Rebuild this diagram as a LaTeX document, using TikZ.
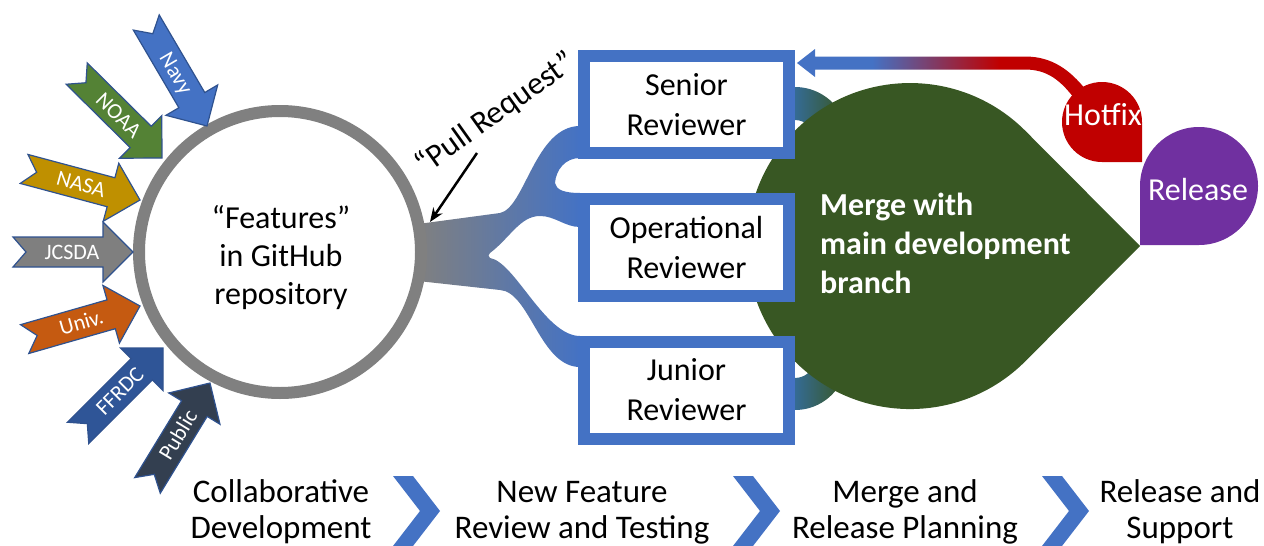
\documentclass[tikz,border=0pt]{standalone}
\usepackage{fontspec}
\setmainfont{Carlito}
\usetikzlibrary{arrows.meta}
\definecolor{cblue}{HTML}{4472C4}
\definecolor{cgray}{HTML}{808080}
\definecolor{cgreen}{HTML}{385723}
\definecolor{cred}{HTML}{C00000}
\definecolor{cpurple}{HTML}{7030A0}
\definecolor{cteal}{HTML}{346EA5}
\definecolor{cout}{HTML}{2F528F}
\definecolor{cnavy}{HTML}{4472C4}
\definecolor{cnoaa}{HTML}{548235}
\definecolor{cnasa}{HTML}{BF9000}
\definecolor{cjcsda}{HTML}{7F7F7F}
\definecolor{cuniv}{HTML}{C55A11}
\definecolor{cffrdc}{HTML}{2F5597}
\definecolor{cpublic}{HTML}{333F50}
\pgfdeclarehorizontalshading{hotfixshade}{100bp}{color(0bp)=(cblue); color(38bp)=(cblue); color(60bp)=(cred); color(100bp)=(cred)}
\newcommand\mystrut{\rule{0pt}{26pt}}
\tikzset{
  rbox/.style={draw=cblue, line width=12pt, fill=white, minimum width=205pt,
    minimum height=97pt, inner sep=0pt, align=center, font=\fontsize{32}{40}\selectfont},
  bigtxt/.style={inner sep=0pt, align=center, font=\fontsize{32}{38}\selectfont},
  steptxt/.style={inner sep=0pt, align=center, anchor=north, font=\fontsize{33}{36}\selectfont},
  orgarrow/.style={draw=cout, line width=1.2pt},
  orglabel/.style={text=white, inner sep=0pt, text height=14pt, text depth=0pt,
    font=\fontsize{22}{24}\selectfont},
  chev/.style={fill=cblue}
}
\newcommand\orgarrow[5]{%
  \begin{scope}[shift={#1}, rotate=#2]
    \filldraw[orgarrow, fill=#3] (0,0) -- (-30,-30) -- (-30,-15) -- (-120,-15) -- (-107,0)
      -- (-120,15) -- (-30,15) -- (-30,30) -- cycle;
    \node[orglabel, rotate=#2] (#5) at (-61,0) {#4};
  \end{scope}}
\begin{document}
\begin{tikzpicture}[x=1pt,y=-1pt]
\useasboundingbox (0,0) rectangle (1264,546);

% pull request branching connector
\shade[left color=cgray, right color=cblue]
  (418,224) -- (500,213) .. controls (525,208) and (535,126) .. (580,126)
  -- (580,158) .. controls (565,158) and (556,170) .. (555,183)
  .. controls (556,190) and (565,193) .. (580,193)
  -- (580,227) .. controls (565,227) and (555,216) .. (540,216)
  .. controls (520,216) and (510,238) .. (490,253)
  .. controls (488,255) and (488,256) .. (490,258)
  .. controls (515,262) and (545,336) .. (580,336)
  -- (580,367) .. controls (540,367) and (530,292) .. (500,290)
  -- (418,281) -- cycle;

% repository circle
\node[circle, draw=cgray, line width=12pt, fill=white, minimum size=282pt, inner sep=0pt] (repo) at (280,252) {};
\node[bigtxt, anchor=north] (repotxt) at (281,202) {\mystrut“Features”\\in GitHub\\repository};

% organisation arrows
\orgarrow{(207,126)}{-59.6}{cnavy}{Navy}{navy}
\orgarrow{(162,158)}{-44.7}{cnoaa}{NOAA}{noaa}
\orgarrow{(140,200)}{-15}{cnasa}{NASA}{nasa}
\orgarrow{(133,252)}{0}{cjcsda}{JCSDA}{jcsda}
\orgarrow{(140,306)}{16}{cuniv}{Univ.}{univ}
\orgarrow{(163,348)}{45}{cffrdc}{FFRDC}{ffrdc}
\orgarrow{(210,383)}{58.6}{cpublic}{Public}{public}

% reviewer-to-merge bands
\shade[left color=cteal, right color=cgreen]
  (787.6,87.5) arc[start angle=262, end angle=340, radius=53]
  -- (813.8,133.2) arc[start angle=340, end angle=262, radius=20] -- cycle;
\shade[left color=cteal, right color=cgreen]
  (787.8,409.5) arc[start angle=98, end angle=20, radius=52]
  -- (813.8,364.8) arc[start angle=20, end angle=98, radius=20] -- cycle;

% merge drop
\fill[cgreen] (1140,246) -- (1025.3,361.3) arc[start angle=45, end angle=315, radius=163] -- cycle;
\node[inner sep=0pt, anchor=north west, align=left, text=white,
  font=\bfseries\fontsize{32}{39}\selectfont] (mergetxt) at (820,189)
  {\mystrut Merge with\\main development\\branch};

% reviewer boxes
\node[rbox] (senior) at (686.5,104.5) {Senior\\Reviewer};
\node[rbox] (oper) at (686.5,247) {Operational\\Reviewer};
\node[rbox] (junior) at (686.5,390) {Junior\\Reviewer};

% hotfix arrow back to senior reviewer
\shade[shading=hotfixshade]
  (797,63) -- (815,49) -- (815,56.5) -- (1025,56.5)
  .. controls (1052,56.5) and (1070,70) .. (1086,90)
  -- (1074,98) .. controls (1060,80) and (1047,69.5) .. (1025,69.5)
  -- (815,69.5) -- (815,77) -- cycle;

% hotfix and release drops
\fill[cred] (1142,122) -- (1142,162) -- (1102,162) arc[start angle=90, end angle=360, radius=40] -- cycle;
\node[inner sep=0pt, anchor=base, text=white, font=\fontsize{32}{38}\selectfont] (hotfix) at (1103,125) {Hotfix};
\fill[cpurple] (1199,245) -- (1140,245) -- (1140,186) arc[start angle=180, end angle=450, radius=59] -- cycle;
\node[inner sep=0pt, anchor=base, text=white, font=\fontsize{32}{38}\selectfont] (release) at (1198,200) {Release};

% pull request label
\node[inner sep=0pt, rotate=35.5, text height=20pt, text depth=0pt,
  font=\fontsize{32}{38}\selectfont] (prlabel) at (495,113) {“Pull Request"};
\coordinate (prfrom) at (477,153);
\coordinate (prto) at (430,222);
\draw[line width=2.5pt, -{Stealth[length=14pt, width=11pt]}] (prfrom) -- (prto);

% bottom process steps
\foreach \x in {393,733,1042}{
  \fill[chev] (\x,476) -- (\x+20,476) -- (\x+47,511) -- (\x+20,546) -- (\x,546) -- (\x+27,511) -- cycle;
}
\node[steptxt] (s1) at (281,476) {\mystrut Collaborative\\Development};
\node[steptxt] (s2) at (582,476) {\mystrut New Feature\\Review and Testing};
\node[steptxt] (s3) at (905,476) {\mystrut Merge and\\Release Planning};
\node[steptxt] (s4) at (1180,476) {\mystrut Release and\\Support};
\end{tikzpicture}
\end{document}
